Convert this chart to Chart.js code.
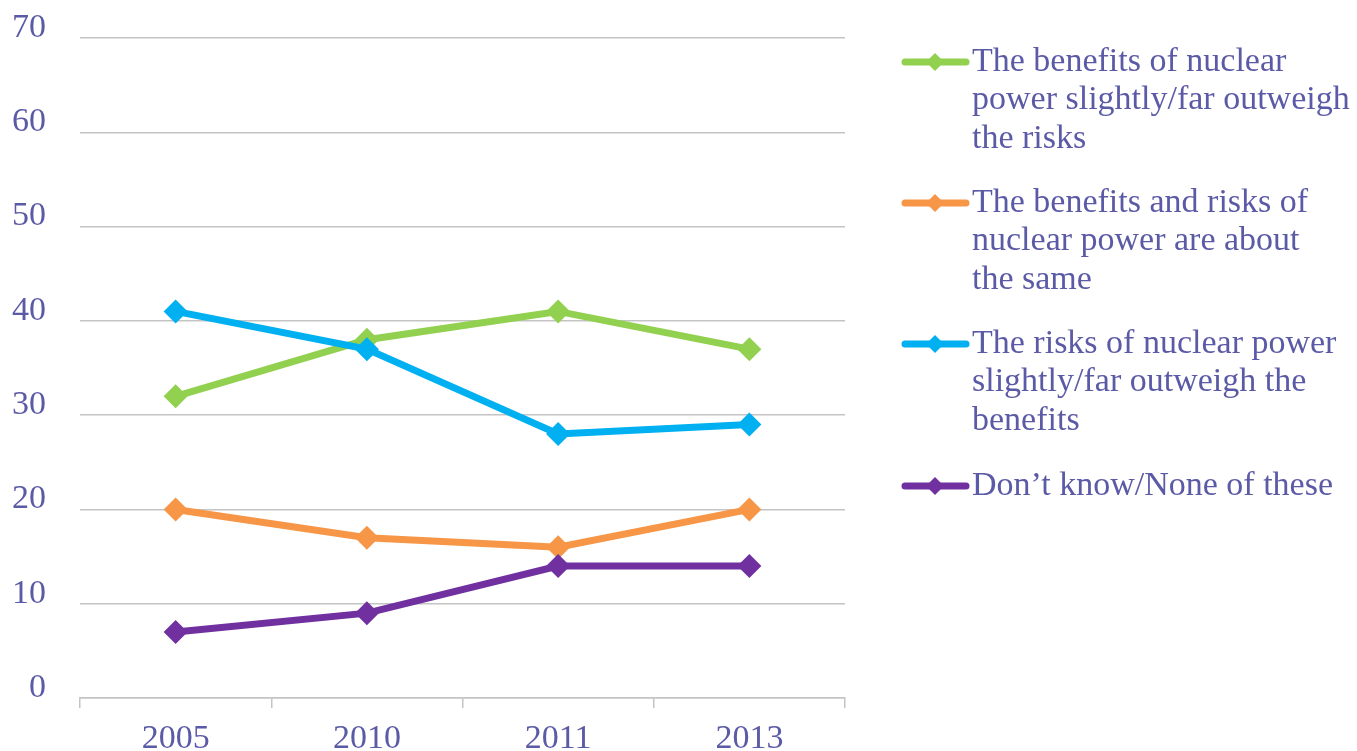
<!DOCTYPE html>
<html lang="en">
<head>
    <meta charset="UTF-8">
    <title>Nuclear power: benefits vs risks</title>
    <script src="https://cdn.jsdelivr.net/npm/chart.js"></script>
    <style>
        html, body { margin: 0; padding: 0; background: #fff; }
        #box { width: 1357px; height: 751px; }
    </style>
</head>
<body>
    <div id="box">
        <canvas id="chartLine" width="1357" height="751"></canvas>
    </div>
<script>
    // dados
    var anos = ["2005", "2010", "2011", "2013"];
    var beneficios = [32, 38, 41, 37];
    var iguais = [20, 17, 16, 20];
    var riscos = [41, 37, 28, 29];
    var naoSabe = [7, 9, 14, 14];
    var ticksY = [0, 10, 20, 30, 40, 50, 60, 70];

    var legendaBeneficios = ["The benefits of nuclear", "power slightly/far outweigh", "the risks"];
    var legendaIguais = ["The benefits and risks of", "nuclear power are about", "the same"];
    var legendaRiscos = ["The risks of nuclear power", "slightly/far outweigh the", "benefits"];
    var legendaNaoSabe = ["Don\u2019t know/None of these"];

    var corTexto = '#5b5aa6';
    var fonte = '"Liberation Serif", "Times New Roman", serif';

    function serie(label, linhas, data, cor, ordem) {
        return {
            label: label,
            linhas: linhas,
            data: data,
            borderColor: cor,
            backgroundColor: cor,
            borderWidth: 7,
            pointStyle: 'rectRot',
            pointRadius: 12,
            pointHoverRadius: 12,
            pointBorderWidth: 0,
            tension: 0,
            order: ordem
        };
    }

    // legenda desenhada à direita, com o texto quebrado como no original
    var pluginLegenda = {
        id: 'legendaDireita',
        afterDraw: function (chart) {
            var ctx = chart.ctx;
            var topos = [62, 203, 344, 486];
            ctx.save();
            chart.data.datasets.forEach(function (ds, i) {
                var y = topos[i];
                ctx.strokeStyle = ds.borderColor;
                ctx.fillStyle = ds.borderColor;
                ctx.lineWidth = 7;
                ctx.lineCap = 'round';
                ctx.beginPath();
                ctx.moveTo(905, y);
                ctx.lineTo(966, y);
                ctx.stroke();
                ctx.beginPath();
                ctx.moveTo(935, y - 9);
                ctx.lineTo(944, y);
                ctx.lineTo(935, y + 9);
                ctx.lineTo(926, y);
                ctx.closePath();
                ctx.fill();
                ctx.fillStyle = corTexto;
                ctx.font = '34px ' + fonte;
                ctx.textBaseline = 'middle';
                ctx.textAlign = 'left';
                ds.linhas.forEach(function (t, j) {
                    ctx.fillText(t, 972, y + j * 38.5);
                });
            });
            ctx.restore();
        }
    };

    var ctxLine = document.getElementById("chartLine").getContext("2d");
    var configLine = {
        type: 'line',
        data: {
            labels: anos,
            datasets: [
                serie('The benefits of nuclear power slightly/far outweigh the risks', legendaBeneficios, beneficios, '#92d050', 4),
                serie('The benefits and risks of nuclear power are about the same', legendaIguais, iguais, '#f79646', 3),
                serie('The risks of nuclear power slightly/far outweigh the benefits', legendaRiscos, riscos, '#00b0f0', 2),
                serie('Don\u2019t know/None of these', legendaNaoSabe, naoSabe, '#7030a0', 1)
            ]
        },
        options: {
            responsive: false,
            animation: false,
            layout: { padding: { top: 38, right: 512, left: 0, bottom: 0 } },
            plugins: {
                legend: { display: false },
                tooltip: { enabled: false }
            },
            scales: {
                x: {
                    offset: true,
                    grid: {
                        offset: true,
                        drawOnChartArea: false,
                        drawTicks: true,
                        tickLength: 10,
                        color: '#c4c4c4',
                        lineWidth: 1.5
                    },
                    border: { display: true, color: '#c4c4c4', width: 1.5 },
                    ticks: {
                        color: corTexto,
                        font: { family: fonte, size: 34 },
                        padding: 11,
                        maxRotation: 0
                    },
                    afterFit: function (scale) {
                        scale.height = 53;
                        scale.paddingLeft = 0;
                        scale.paddingRight = 0;
                    }
                },
                y: {
                    min: 0,
                    max: 70,
                    afterBuildTicks: function (scale) {
                        scale.ticks = ticksY.map(function (v) { return { value: v }; });
                    },
                    grid: {
                        drawTicks: false,
                        color: '#c4c4c4',
                        lineWidth: 1.5
                    },
                    border: { display: false },
                    ticks: {
                        color: corTexto,
                        font: { family: fonte, size: 34 },
                        padding: 34,
                        labelOffset: -10
                    },
                    afterFit: function (scale) {
                        scale.width = 80;
                        scale.paddingTop = 0;
                        scale.paddingBottom = 0;
                    }
                }
            }
        },
        plugins: [pluginLegenda]
    };
    var graficoLinha = new Chart(ctxLine, configLine);
</script>
</body>
</html>
